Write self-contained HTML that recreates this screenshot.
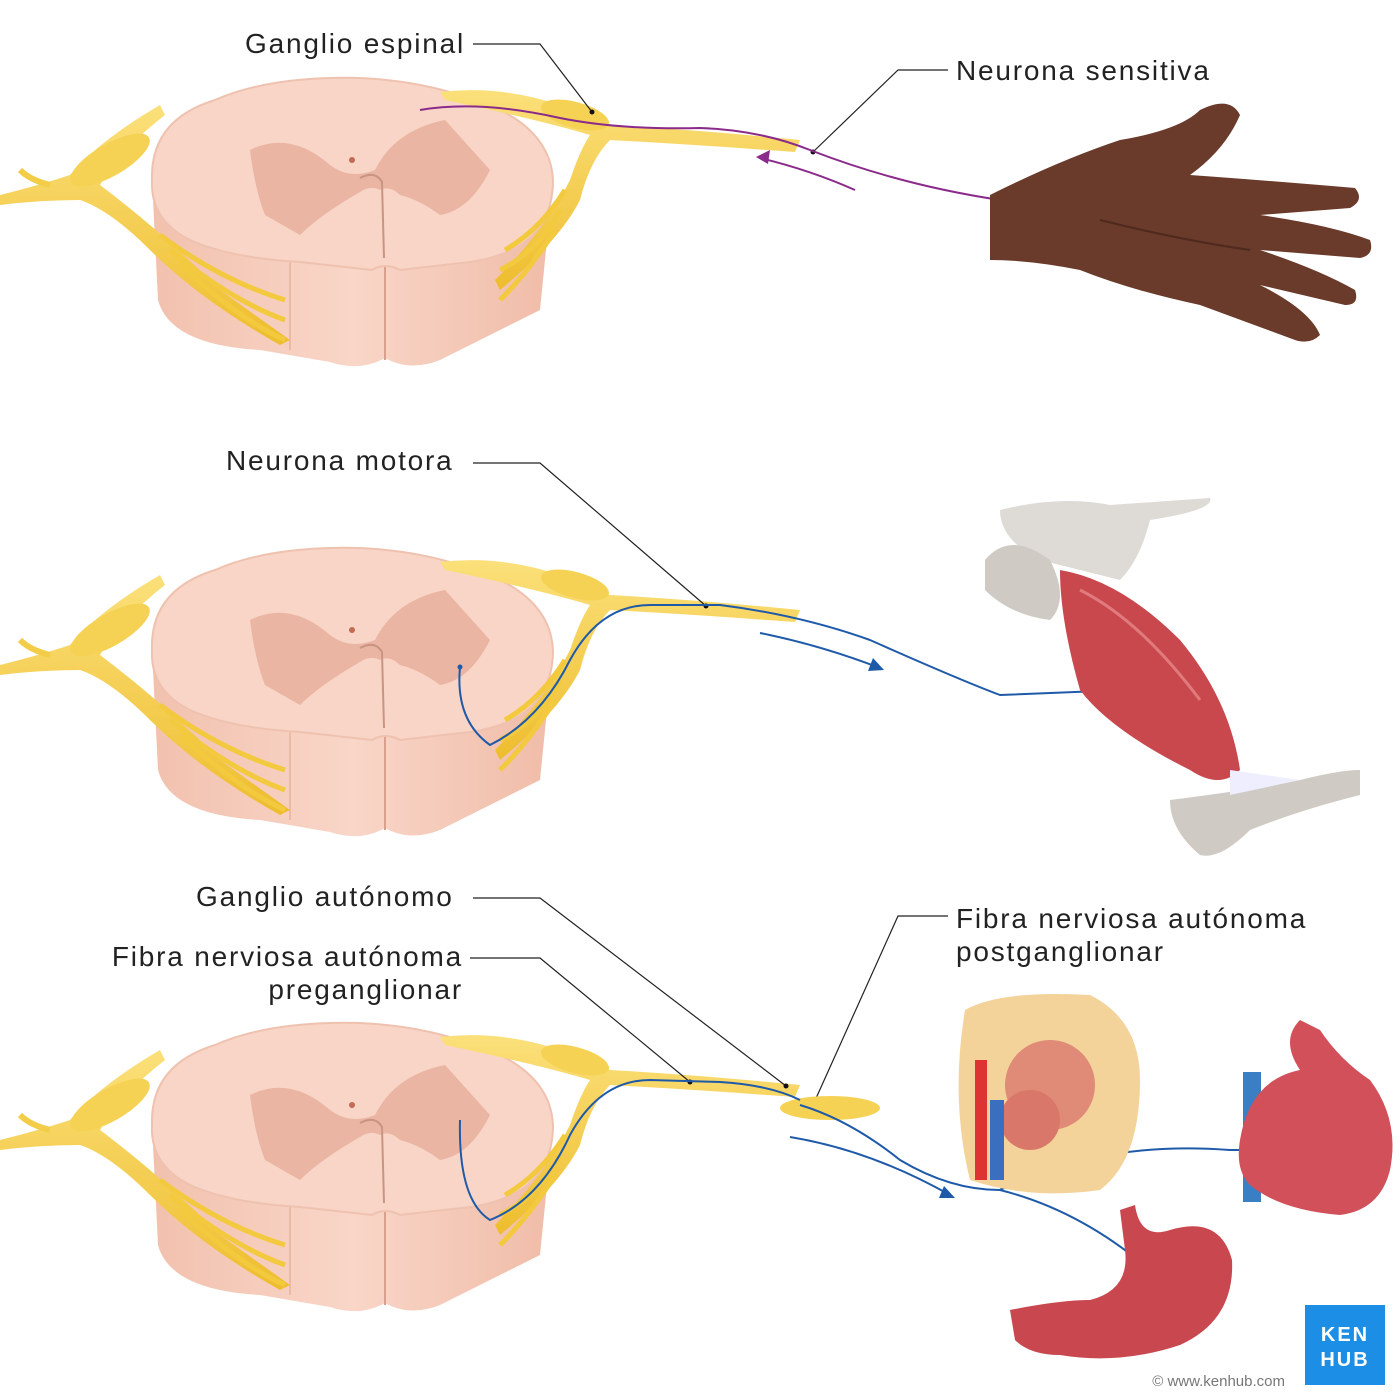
<!DOCTYPE html>
<html><head><meta charset="utf-8"><style>
body{margin:0;background:#fff;}
svg{display:block}
text{font-family:"Liberation Sans",sans-serif;fill:#222;font-size:28px;letter-spacing:1.8px}
</style></head><body>
<svg width="1400" height="1400" viewBox="0 0 1400 1400" xmlns="http://www.w3.org/2000/svg">
<defs>
<linearGradient id="body" x1="0" x2="1">
<stop offset="0" stop-color="#f2c1ae"/><stop offset="0.5" stop-color="#f9d6c8"/><stop offset="1" stop-color="#f0bca8"/></linearGradient>
<linearGradient id="ner" x1="0" y1="0" x2="0" y2="1"><stop offset="0" stop-color="#fbe07a"/><stop offset="1" stop-color="#eebd2e"/></linearGradient>
<g id="cord">
 <path d="M152,180 L158,300 Q170,345 260,350 L330,362 Q360,372 385,358 Q410,372 440,360 L540,310 L553,180 Z" fill="url(#body)"/>
 <line x1="385" y1="250" x2="385" y2="360" stroke="#d9a08e" stroke-width="2"/>
 <line x1="290" y1="250" x2="290" y2="350" stroke="#e8b3a0" stroke-width="1.5"/>
 <path d="M152,180 Q150,120 215,100 Q260,80 330,78 Q400,76 460,95 Q550,120 553,180 Q553,250 470,262 L400,270 Q385,262 372,270 L300,262 Q230,258 190,240 Q150,220 152,180 Z" fill="#f8d5c7" stroke="#efc2b0" stroke-width="2"/>
 <path d="M250,150 Q290,130 330,165 Q350,180 375,170 Q395,130 445,120 L490,170 Q470,210 440,215 Q420,200 400,195 Q390,185 380,190 Q370,185 360,192 Q320,215 300,235 L265,215 Q255,190 250,150 Z" fill="#eab5a2"/>
 <circle cx="352" cy="160" r="3" fill="#c26a55"/>
 <path d="M360,178 Q375,170 382,182 L384,258" stroke="#c99582" stroke-width="2" fill="none"/>
 <path d="M0,195 Q40,185 70,175 Q100,140 160,105 L165,115 Q120,150 100,185 Q160,230 220,290 L290,340 L280,345 Q200,300 150,250 Q110,210 80,200 Q40,200 0,205 Z" fill="url(#ner)"/>
 <ellipse cx="110" cy="160" rx="45" ry="16" transform="rotate(-30 110 160)" fill="#f6d254"/>
 <path d="M20,170 Q30,180 50,185" stroke="#f3cc48" stroke-width="6" fill="none"/>
 <path d="M160,235 Q220,280 285,300 M170,250 Q230,300 285,320 M180,265 Q240,320 285,340" stroke="#f3c93e" stroke-width="5" fill="none"/>
 <path d="M440,92 Q500,85 560,105 Q590,110 610,125 Q700,130 800,140 L795,152 Q700,145 610,140 Q590,160 580,200 Q560,240 500,290 L495,280 Q545,230 570,180 Q580,150 590,135 Q540,120 445,100 Z" fill="url(#ner)"/>
 <ellipse cx="575" cy="115" rx="35" ry="13" transform="rotate(15 575 115)" fill="#f6d254"/>
 <path d="M505,250 Q540,230 565,190 M500,270 Q540,250 560,210 M500,300 Q530,270 555,230" stroke="#f3c93e" stroke-width="5" fill="none"/>
</g>
</defs>

<use href="#cord"/>
<use href="#cord" y="470"/>
<use href="#cord" y="945"/>

<text x="245" y="53">Ganglio espinal</text>
<polyline points="473,44 540,44 592,112" stroke="#222" fill="none" stroke-width="1.2"/>
<circle cx="592" cy="112" r="2.5" fill="#111"/>
<text x="956" y="80">Neurona sensitiva</text>
<polyline points="948,70 898,70 813,152" stroke="#222" fill="none" stroke-width="1.2"/>
<circle cx="813" cy="152" r="2.5" fill="#111"/>
<path d="M420,110 Q480,100 560,118 Q620,130 700,128 Q760,130 810,150 Q900,185 1000,200 L1350,198" stroke="#8a2a8a" stroke-width="2" fill="none"/>
<path d="M855,190 Q810,170 760,158" stroke="#8a2a8a" stroke-width="2" fill="none"/>
<path d="M756,157 L770,150 L768,164 Z" fill="#8a2a8a"/>
<path d="M990,195 Q1060,160 1120,140 Q1180,130 1200,110 Q1230,95 1240,115 Q1225,150 1190,175 Q1260,180 1355,188 Q1365,200 1350,208 L1260,215 Q1330,225 1370,240 Q1375,255 1360,258 L1260,250 Q1320,270 1355,290 Q1360,305 1345,305 L1260,285 Q1310,310 1320,335 Q1310,345 1295,340 L1200,305 Q1130,290 1080,270 Q1030,260 990,260 Z" fill="#6a3a2a"/>
<path d="M1100,220 Q1180,240 1250,250" stroke="#4e2a1e" stroke-width="2" fill="none"/>

<text x="226" y="470">Neurona motora</text>
<polyline points="473,463 540,463 706,606" stroke="#222" fill="none" stroke-width="1.2"/>
<circle cx="706" cy="606" r="2.5" fill="#111"/>
<path d="M460,667 Q455,720 490,745 Q540,720 570,660 Q600,605 650,605 L720,605 Q800,615 870,640 Q960,680 1000,695 L1125,690" stroke="#1f5aa8" stroke-width="2" fill="none"/>
<circle cx="460" cy="667" r="2.5" fill="#1f5aa8"/>
<path d="M760,633 Q820,645 880,668" stroke="#1f5aa8" stroke-width="2" fill="none"/>
<path d="M884,670 L868,671 L873,658 Z" fill="#1f5aa8"/>
<path d="M1000,510 Q1060,495 1110,505 L1210,498 Q1215,510 1150,520 Q1140,560 1120,580 L1040,560 Q1000,540 1000,510 Z" fill="#dedbd6"/>
<path d="M985,560 Q1010,530 1050,560 Q1070,600 1050,620 Q1010,615 985,590 Z" fill="#cfcac3"/>
<path d="M1060,570 Q1120,580 1180,640 Q1230,700 1240,770 Q1220,790 1190,770 Q1110,730 1080,690 Q1060,620 1060,570 Z" fill="#c8484d"/>
<path d="M1080,590 Q1140,620 1200,700" stroke="#e07a7c" stroke-width="3" fill="none"/>
<path d="M1170,800 Q1250,790 1300,780 Q1340,770 1360,770 L1360,795 Q1300,810 1250,830 Q1220,860 1200,855 Q1170,830 1170,800 Z" fill="#cfcac3"/>
<path d="M1230,770 L1300,780 L1230,795 Z" fill="#eef"/>

<text x="196" y="906">Ganglio autónomo</text>
<polyline points="473,898 540,898 786,1086" stroke="#222" fill="none" stroke-width="1.2"/>
<circle cx="786" cy="1086" r="2.5" fill="#111"/>
<text x="463" y="966" text-anchor="end">Fibra nerviosa autónoma</text>
<text x="463" y="999" text-anchor="end">preganglionar</text>
<polyline points="470,958 540,958 690,1082" stroke="#222" fill="none" stroke-width="1.2"/>
<circle cx="690" cy="1082" r="2.5" fill="#111"/>
<text x="956" y="928">Fibra nerviosa autónoma</text>
<text x="956" y="961">postganglionar</text>
<polyline points="948,916 898,916 813,1105" stroke="#222" fill="none" stroke-width="1.2"/>
<circle cx="813" cy="1105" r="2.5" fill="#111"/>
<ellipse cx="830" cy="1108" rx="50" ry="12" fill="#f6d254"/>
<path d="M460,1120 Q458,1200 490,1220 Q540,1200 570,1135 Q600,1080 650,1080 L720,1082 Q770,1085 800,1100" stroke="#1f5aa8" stroke-width="2" fill="none"/>
<path d="M800,1105 Q850,1120 900,1160 Q950,1190 1000,1190 Q1040,1160 1040,1110 M1000,1190 Q1100,1140 1230,1150 Q1280,1150 1330,1150 M1000,1190 Q1080,1210 1150,1270" stroke="#1f5aa8" stroke-width="2" fill="none"/>
<path d="M790,1137 Q870,1150 950,1195" stroke="#1f5aa8" stroke-width="2" fill="none"/>
<path d="M955,1198 L939,1198 L944,1186 Z" fill="#1f5aa8"/>
<path d="M965,1010 Q1000,990 1090,995 Q1140,1020 1140,1080 Q1140,1160 1100,1190 Q1030,1200 970,1180 Q950,1100 965,1010 Z" fill="#f3d39a"/>
<circle cx="1050" cy="1085" r="45" fill="#e08a78"/>
<circle cx="1030" cy="1120" r="30" fill="#d9786a"/>
<rect x="975" y="1060" width="12" height="120" fill="#d33"/>
<rect x="990" y="1100" width="14" height="80" fill="#3a6fc0"/>
<rect x="1243" y="1072" width="18" height="130" fill="#3a7fc4"/>
<path d="M1240,1140 Q1250,1080 1300,1070 Q1280,1040 1300,1020 L1320,1030 Q1340,1060 1370,1080 Q1400,1120 1390,1170 Q1380,1210 1340,1215 Q1280,1210 1250,1185 Q1235,1170 1240,1140 Z" fill="#d2505a"/>
<path d="M1120,1210 L1135,1205 Q1140,1240 1170,1230 Q1220,1215 1232,1260 Q1235,1320 1180,1345 Q1120,1365 1060,1355 Q1030,1355 1015,1340 L1010,1310 Q1060,1300 1090,1300 Q1130,1290 1125,1250 Z" fill="#c9474f"/>
<rect x="1305" y="1305" width="80" height="80" fill="#1d8ee6"/>
<text x="1345" y="1341" text-anchor="middle" style="fill:#fff;font-size:20px;font-weight:bold;letter-spacing:2px">KEN</text>
<text x="1345" y="1366" text-anchor="middle" style="fill:#fff;font-size:20px;font-weight:bold;letter-spacing:2px">HUB</text>
<text x="1285" y="1386" text-anchor="end" style="fill:#777;font-size:15px;letter-spacing:0">© www.kenhub.com</text>
</svg>
</body></html>
